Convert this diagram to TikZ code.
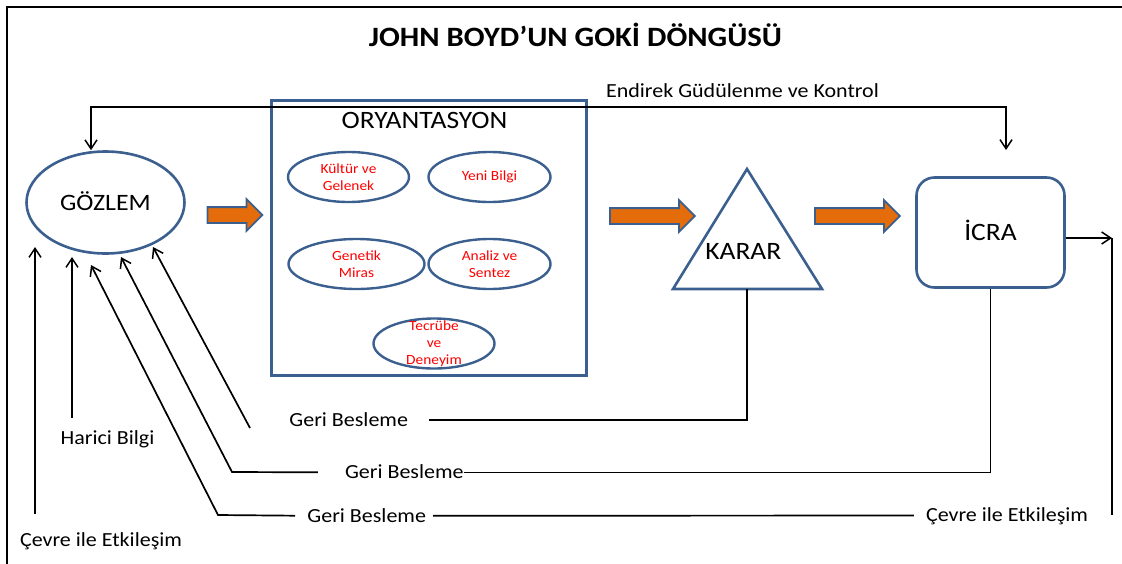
\documentclass[tikz,border=0pt]{standalone}
\usepackage{fontspec}
\setmainfont{Carlito}[FakeStretch=1.1]
\usetikzlibrary{shapes.geometric,shapes.arrows,arrows.meta}
\definecolor{gokiBlue}{HTML}{3B5F8E}
\definecolor{gokiOrange}{HTML}{E46C0A}
\definecolor{gokiRed}{HTML}{FF0000}
\begin{document}
\begin{tikzpicture}[
    x=1pt,y=-1pt,
    gokiLine/.style={draw=black,line width=1.7pt},
    gokiArrow/.style={gokiLine,-{Straight Barb[length=9pt,width=12pt,line width=1.5pt]}},
    gokiBoth/.style={gokiLine,{Straight Barb[length=9pt,width=12pt,line width=1.5pt]}-{Straight Barb[length=9pt,width=12pt,line width=1.5pt]}},
    gokiShape/.style={draw=gokiBlue,line width=2.6pt},
    gokiBig/.style={font=\fontsize{25}{28}\selectfont,text height=16.1pt,text depth=0pt,inner sep=0pt},
    gokiMain/.style={gokiShape,ellipse,gokiBig},
    gokiSub/.style={gokiShape,ellipse,line width=2.4pt,minimum height=50pt,inner sep=0pt},
    gokiSubText/.style={text=gokiRed,align=center,inner sep=0pt,font=\fontsize{14}{17}\selectfont},
    gokiBlock/.style={single arrow,draw=gokiBlue,line width=1.8pt,fill=gokiOrange,inner xsep=0pt,inner ysep=7pt,
                      single arrow head extend=8pt},
    gokiLabel/.style={font=\fontsize{20}{24}\selectfont,text height=12.9pt,text depth=0pt,inner sep=0pt}]
    \useasboundingbox (0,0) rectangle (1122,563);
    \draw[line width=2.5pt] (7,7) rectangle (1140,580);

    % title
    \node[font=\bfseries\fontsize{28}{32}\selectfont,anchor=base] (title) at (575.5,46.5) {JOHN BOYD’UN GOKİ DÖNGÜSÜ};

    % observe
    \node[gokiMain,minimum width=158pt,minimum height=102pt,font=\fontsize{23.5}{28}\selectfont,text height=15.1pt] (gozlem) at (105.5,202.5) {GÖZLEM};

    % orient box and its parts
    \node[gokiShape,rectangle,minimum width=315pt,minimum height=275pt,inner sep=0pt] (orient) at (429,238) {};
    \node[gokiBig] (oryText) at (424.5,120.5) {ORYANTASYON};
    \node[gokiSub,minimum width=121pt,label={[gokiSubText]center:Kültür ve\\Gelenek}] (kultur) at (348.5,177) {};
    \node[gokiSub,minimum width=122pt,label={[gokiSubText]center:Yeni Bilgi}] (yeni) at (489.5,177) {};
    \node[gokiSub,minimum width=136pt,label={[gokiSubText]center:Genetik\\Miras}] (genetik) at (356.5,264) {};
    \node[gokiSub,minimum width=122pt,label={[gokiSubText]center:Analiz ve\\Sentez}] (analiz) at (489.5,264) {};
    \node[gokiSub,minimum width=121pt,label={[gokiSubText]center:Tecrübe\\ve\\Deneyim}] (tecrube) at (434,343.5) {};

    % decide
    \coordinate (kTop) at (747,169);
    \coordinate (kLeft) at (673,289);
    \coordinate (kRight) at (822,289);
    \coordinate (kBase) at (747,289);
    \draw[gokiShape,line join=miter] (kTop) -- (kRight) -- (kLeft) -- cycle;
    \node[gokiBig] (karar) at (743.3,251) {KARAR};

    % act
    \node[gokiShape,rectangle,rounded corners=18pt,minimum width=148pt,minimum height=110pt,gokiBig] (icra) at (990.5,232.5) {İCRA};

    % block arrows
    \node[gokiBlock,minimum height=55pt] (arr1) at (231,215) {};
    \node[gokiBlock,minimum height=85pt] (arr2) at (648.5,216) {};
    \node[gokiBlock,minimum height=85pt] (arr3) at (853.5,216) {};

    % labels
    \node[gokiLabel] (lblEndirek) at (742.5,91.3) {Endirek Güdülenme ve Kontrol};
    \node[gokiLabel] (gb1) at (348.7,420.3) {Geri Besleme};
    \node[gokiLabel] (gb2) at (404.3,472.4) {Geri Besleme};
    \node[gokiLabel] (gb3) at (366.7,515.8) {Geri Besleme};
    \node[gokiLabel] (harici) at (107.5,438.5) {Harici Bilgi};
    \node[gokiLabel] (cevreL) at (101,540.5) {Çevre ile Etkileşim};
    \node[gokiLabel] (cevreR) at (1007,515.5) {Çevre ile Etkileşim};

    % connector points
    \coordinate (topL) at (91,107);
    \coordinate (topR) at (1006,107);
    \coordinate (icraIn) at (1006,150);
    \coordinate (outR) at (1112,238);
    \coordinate (outB) at (1112,515);
    \coordinate (tipA) at (35,247);
    \coordinate (botA) at (35,514);
    \coordinate (tipB) at (72,257);
    \coordinate (botB) at (72,418);
    \coordinate (tipC) at (91,265);
    \coordinate (fbC) at (218,515);
    \coordinate (tipD) at (121,257);
    \coordinate (fbD) at (232,472);
    \coordinate (tipE) at (153,247);
    \coordinate (fbE) at (250,428);

    % control loop on top
    \draw[gokiBoth] (gozlem.north -| topL) -- (topL) -- (topR) -- (icraIn);

    % action out to the environment
    \draw[gokiArrow] (icra.east |- outR) -- (outR);
    \draw[gokiLine] (outR) -- (outB);

    % feedback lines
    \draw[gokiLine,shorten <=21pt] (gb1.east) -| (kBase);
    \draw[gokiArrow] (fbE) -- (tipE);
    \draw[gokiLine] (gb2.east) -| (icra.south);
    \draw[gokiArrow,shorten <=27pt] (gb2.west) -- (fbD) -- (tipD);
    \draw[gokiLine,shorten <=7pt,shorten >=12pt] (gb3.east) -- (cevreR.west);
    \draw[gokiArrow,shorten <=12pt] (gb3.west) -- (fbC) -- (tipC);

    % outside information
    \draw[gokiArrow] (botB) -- (tipB);
    \draw[gokiArrow] (botA) -- (tipA);
\end{tikzpicture}
\end{document}
